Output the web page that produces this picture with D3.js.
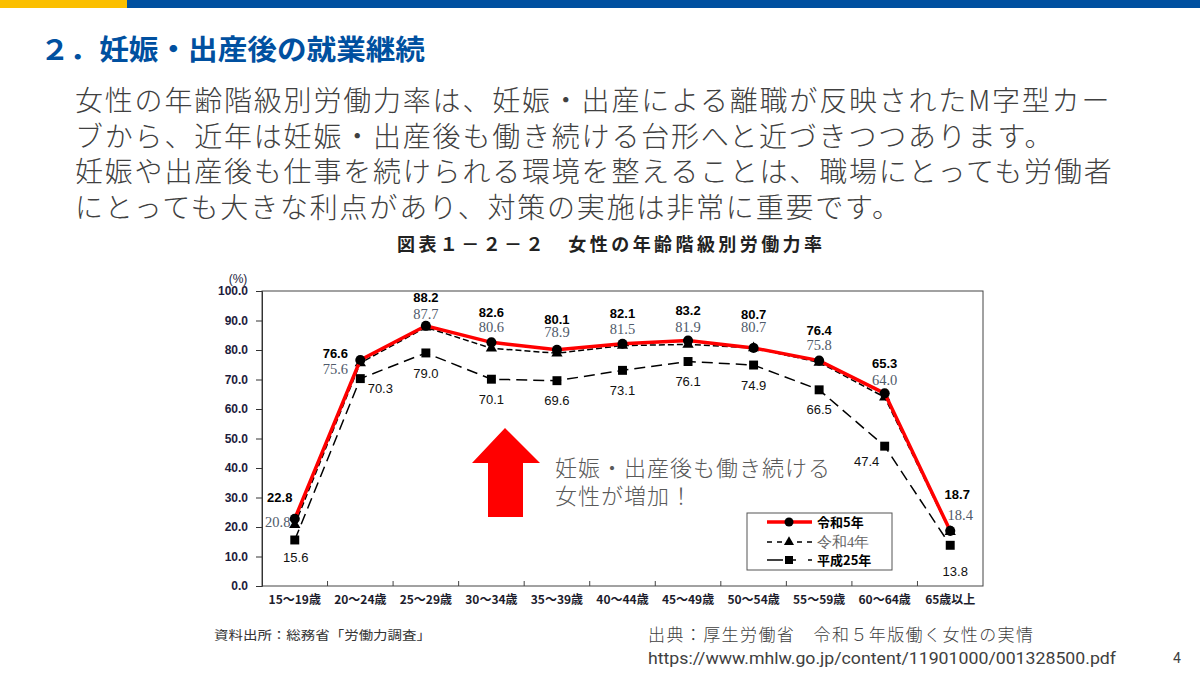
<!DOCTYPE html>
<meta charset="utf-8"/>
<title>女性の年齢階級別労働力率</title>
<style>
    body { margin: 0; background: #fff; }
    svg { display: block; }
    .jp { font-family: "Noto Sans CJK JP", "Noto Sans", sans-serif; }
    .num { font-family: "Liberation Sans", Arial, sans-serif; }
    .serif { font-family: "Liberation Serif", "DejaVu Serif", serif; }
    .axis path, .axis line { stroke: #333; }
</style>
<script src="https://cdn.jsdelivr.net/npm/d3@7/dist/d3.min.js"></script>
<svg id="slide" width="1200" height="675"></svg>
<script>
"use strict";

// age bands
const ageGroups = ["15〜19歳", "20〜24歳", "25〜29歳", "30〜34歳", "35〜39歳", "40〜44歳",
    "45〜49歳", "50〜54歳", "55〜59歳", "60〜64歳", "65歳以上"];

// labour force participation rate (%)
const reiwa5 = [22.8, 76.6, 88.2, 82.6, 80.1, 82.1, 83.2, 80.7, 76.4, 65.3, 18.7];
const reiwa4 = [20.8, 75.6, 87.7, 80.6, 78.9, 81.5, 81.9, 80.7, 75.8, 64.0, 18.4];
const heisei25 = [15.6, 70.3, 79.0, 70.1, 69.6, 73.1, 76.1, 74.9, 66.5, 47.4, 13.8];

const yTicks = [0, 10, 20, 30, 40, 50, 60, 70, 80, 90, 100];

const bodyLines = [
    "女性の年齢階級別労働力率は、妊娠・出産による離職が反映されたM字型カー",
    "ブから、近年は妊娠・出産後も働き続ける台形へと近づきつつあります。",
    "妊娠や出産後も仕事を続けられる環境を整えることは、職場にとっても労働者",
    "にとっても大きな利点があり、対策の実施は非常に重要です。"
];

const svg = d3.select("#slide");

// top bar
svg.append("rect").attr("x", 0).attr("y", 0).attr("width", 1200).attr("height", 8).attr("fill", "#0050a0");
svg.append("rect").attr("x", 0).attr("y", 0).attr("width", 127).attr("height", 8).attr("fill", "#fbbf00");

// heading
svg.append("text").attr("class", "jp")
    .attr("x", 40).attr("y", 60)
    .attr("font-size", 28).attr("font-weight", "bold").attr("fill", "#0050a0")
    .attr("textLength", 385).attr("lengthAdjust", "spacingAndGlyphs")
    .text("２．妊娠・出産後の就業継続");

// body text
svg.append("g").selectAll("text")
    .data(bodyLines)
    .join("text")
    .attr("class", "jp")
    .attr("x", 75)
    .attr("y", (d, i) => 111 + i * 35.7)
    .attr("font-size", 28).attr("font-weight", 300).attr("fill", "#404040")
    .attr("letter-spacing", 1.8)
    .text(d => d);

// chart title
svg.append("text").attr("class", "jp")
    .attr("x", 397).attr("y", 251)
    .attr("font-size", 18).attr("font-weight", "bold").attr("fill", "#222")
    .attr("textLength", 425).attr("lengthAdjust", "spacing")
    .text("図表１－２－２　女性の年齢階級別労働力率");

// scales
const x = d3.scaleBand().domain(ageGroups).range([262, 983]);
const y = d3.scaleLinear().domain([0, 100]).range([586, 291]);
const cx = (d, i) => x(ageGroups[i]) + x.bandwidth() / 2;

// frame
svg.append("rect")
    .attr("x", 262).attr("y", y(100))
    .attr("width", 983 - 262).attr("height", y(0) - y(100))
    .attr("fill", "none").attr("stroke", "#444").attr("stroke-width", 1);

// y axis
const yAxis = svg.append("g").attr("class", "axis num")
    .attr("transform", "translate(262,0)")
    .call(d3.axisLeft(y).tickValues(yTicks).tickFormat(d3.format(".1f")).tickSize(6).tickPadding(8));
yAxis.select(".domain").attr("stroke", "#333");
yAxis.selectAll("text").attr("font-size", 12).attr("font-weight", "bold").attr("fill", "#1c1c3c")
    .attr("font-family", "Liberation Sans, Arial, sans-serif");
svg.append("text").attr("class", "num")
    .attr("x", 238).attr("y", 283).attr("text-anchor", "middle")
    .attr("font-size", 12).attr("fill", "#1c1c3c").text("(%)");

// x axis: ticks at band boundaries, pointing into plot
const bounds = ageGroups.slice(1).map(g => x(g));
svg.append("g").selectAll("line")
    .data(bounds)
    .join("line")
    .attr("x1", d => d).attr("x2", d => d)
    .attr("y1", y(0)).attr("y2", y(0) - 5)
    .attr("stroke", "#444");
svg.append("g").selectAll("text")
    .data(ageGroups)
    .join("text")
    .attr("class", "jp")
    .attr("x", d => x(d) + x.bandwidth() / 2)
    .attr("y", 604)
    .attr("text-anchor", "middle")
    .attr("font-size", 12).attr("font-weight", "bold").attr("fill", "#1c1c2c")
    .text(d => d);

// series
const series = [
    {key: "r5", name: "令和5年", values: reiwa5, color: "#ff0000", width: 3.5, dash: null,
        symbol: d3.symbolCircle, size: 80},
    {key: "r4", name: "令和4年", values: reiwa4, color: "#000", width: 1.5, dash: "6,3",
        symbol: d3.symbolTriangle, size: 55},
    {key: "h25", name: "平成25年", values: heisei25, color: "#000", width: 1.5, dash: "11,6",
        symbol: d3.symbolSquare, size: 80}
];

const line = d3.line()
    .x((d, i) => cx(d, i))
    .y(d => y(d));

// draw oldest first so red sits on top
series.slice().reverse().forEach(function (s)
{
    const g = svg.append("g");
    g.append("path")
        .datum(s.values)
        .attr("d", line)
        .attr("fill", "none")
        .attr("stroke", s.color)
        .attr("stroke-width", s.width)
        .attr("stroke-dasharray", s.dash);
    g.selectAll("path.mark")
        .data(s.values)
        .join("path")
        .attr("class", "mark")
        .attr("transform", (d, i) => "translate(" + cx(d, i) + "," + y(d) + ")")
        .attr("d", d3.symbol().type(s.symbol).size(s.size))
        .attr("fill", "#000");
});

// value labels: default offsets (label centre relative to point), with a few nudges
const labelStyle = {
    r5: {dy: -30, cls: "num", size: 13, weight: "bold", fill: "#000"},
    r4: {dy: -17, cls: "serif", size: 14.5, weight: "normal", fill: "#4f5a6a"},
    h25: {dy: 20, cls: "num", size: 13, weight: "normal", fill: "#111"}
};
const nudge = {
    r5: {0: [-15, -21], 1: [-25, -7], 2: [0, -28], 7: [0, -33], 10: [7, -36]},
    r4: {0: [-17, -3], 1: [-25, 6], 2: [0, -13], 3: [0, -21], 4: [0, -21], 7: [0, -21], 10: [10, -17]},
    h25: {0: [1, 17], 1: [20, 10], 9: [-18, 15], 10: [5, 26]}
};

series.forEach(function (s)
{
    const st = labelStyle[s.key];
    svg.append("g").selectAll("text")
        .data(s.values)
        .join("text")
        .attr("class", st.cls)
        .attr("x", (d, i) => cx(d, i) + (nudge[s.key][i] ? nudge[s.key][i][0] : 0))
        .attr("y", (d, i) => y(d) + (nudge[s.key][i] ? nudge[s.key][i][1] : st.dy))
        .attr("dy", "0.35em")
        .attr("text-anchor", "middle")
        .attr("font-size", st.size).attr("font-weight", st.weight).attr("fill", st.fill)
        .text(d => d.toFixed(1));
});

// legend
const legend = svg.append("g").attr("transform", "translate(747,513)");
legend.append("rect").attr("width", 145).attr("height", 57)
    .attr("fill", "#fff").attr("stroke", "#555").attr("stroke-width", 1);
const legendRows = [9, 29, 47];
series.forEach(function (s, i)
{
    const row = legend.append("g").attr("transform", "translate(0," + legendRows[i] + ")");
    if (s.key === "r5")
    {
        row.append("line").attr("x1", 20).attr("x2", 65).attr("stroke", s.color).attr("stroke-width", 3.5);
    }
    else if (s.key === "r4")
    {
        row.append("line").attr("x1", 20).attr("x2", 65).attr("stroke", "#000")
            .attr("stroke-width", 1.5).attr("stroke-dasharray", "5,5");
    }
    else
    {
        row.append("line").attr("x1", 20).attr("x2", 36).attr("stroke", "#000").attr("stroke-width", 1.5);
        row.append("line").attr("x1", 36).attr("x2", 65).attr("stroke", "#000")
            .attr("stroke-width", 1.5).attr("stroke-dasharray", "0,8,5,4");
    }
    row.append("path")
        .attr("transform", "translate(42,0)")
        .attr("d", d3.symbol().type(s.symbol).size(s.size * 0.8))
        .attr("fill", "#000");
    row.append("text")
        .attr("class", s.key === "r4" ? "serif" : "jp")
        .attr("x", 70).attr("dy", "0.35em")
        .attr("font-size", s.key === "r4" ? 14.5 : 13)
        .attr("font-weight", s.key === "r4" ? "normal" : "bold")
        .attr("fill", s.key === "r4" ? "#666" : "#000")
        .text(s.name);
});

// red arrow
svg.append("path")
    .attr("d", "M505,428 L540,463 L523,463 L523,517 L488,517 L488,463 L472,463 Z")
    .attr("fill", "#ff0000");
svg.append("g").selectAll("text")
    .data([["妊娠・出産後も働き続ける", 275], ["女性が増加！", 137]])
    .join("text")
    .attr("class", "jp")
    .attr("x", 555)
    .attr("y", (d, i) => 476 + i * 28)
    .attr("font-size", 22).attr("font-weight", 300).attr("fill", "#595959")
    .attr("textLength", d => d[1]).attr("lengthAdjust", "spacing")
    .text(d => d[0]);

// sources
svg.append("text").attr("class", "jp")
    .attr("x", 214).attr("y", 640)
    .attr("font-size", 12.5).attr("fill", "#333")
    .attr("textLength", 217).attr("lengthAdjust", "spacingAndGlyphs")
    .text("資料出所：総務省「労働力調査」");
svg.append("text").attr("class", "jp")
    .attr("x", 648).attr("y", 641)
    .attr("font-size", 17).attr("font-weight", 300).attr("fill", "#404040")
    .attr("textLength", 385).attr("lengthAdjust", "spacing")
    .text("出典：厚生労働省　令和５年版働く女性の実情");
svg.append("text")
    .attr("x", 648).attr("y", 664)
    .attr("font-family", "Roboto, Liberation Sans, sans-serif")
    .attr("font-size", 17).attr("fill", "#404040")
    .attr("textLength", 468).attr("lengthAdjust", "spacingAndGlyphs")
    .text("https://www.mhlw.go.jp/content/11901000/001328500.pdf");
svg.append("text")
    .attr("x", 1177).attr("y", 663).attr("text-anchor", "middle")
    .attr("font-family", "Roboto, Liberation Sans, sans-serif")
    .attr("font-size", 14).attr("fill", "#404040")
    .text("4");
</script>
